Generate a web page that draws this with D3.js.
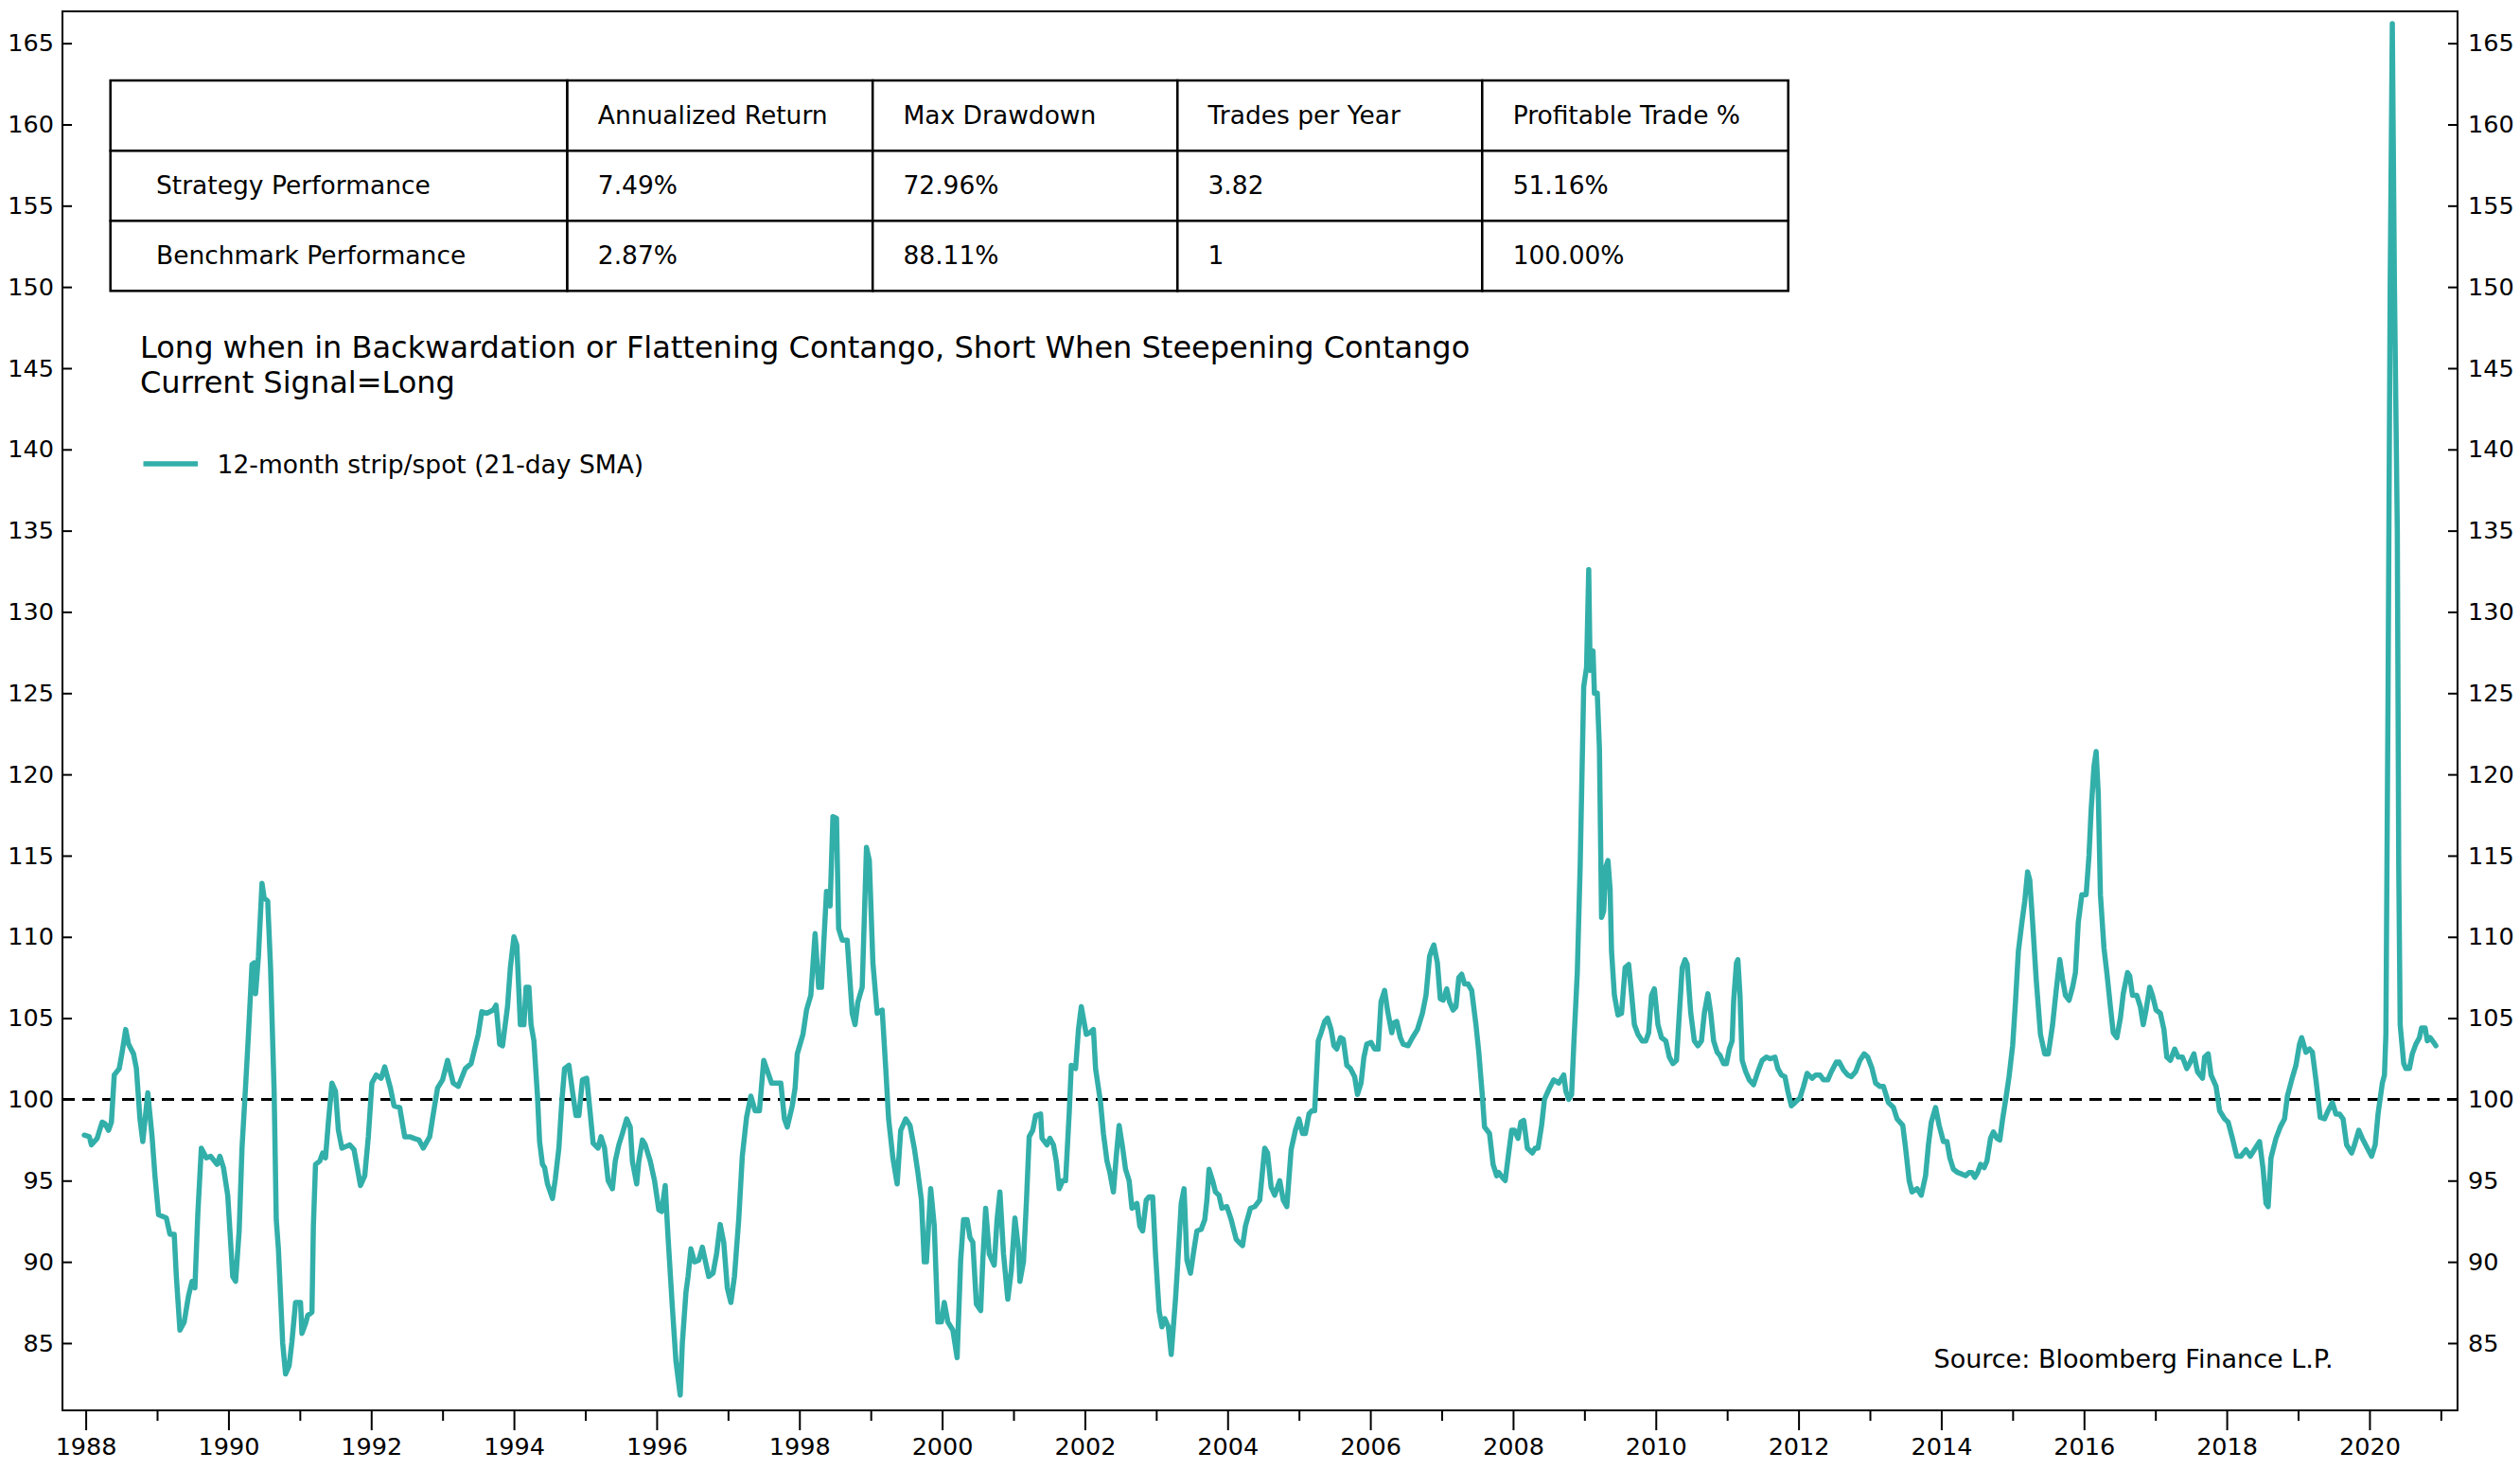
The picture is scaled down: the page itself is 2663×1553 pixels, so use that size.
<!DOCTYPE html>
<html>
<head>
<meta charset="utf-8">
<script src="https://cdn.jsdelivr.net/npm/d3@7"></script>
<style>
  body { margin: 0; background: #fff; }
  text { font-family: "DejaVu Sans", sans-serif; fill: #000; }
</style>
</head>
<body>
<script>
// 12-month strip / spot ratio (21-day SMA), decimal years
let dates = [
  1987.98, 1988.05, 1988.08, 1988.16, 1988.23, 1988.27, 1988.32, 1988.36, 1988.40, 1988.47,
  1988.51, 1988.56, 1988.60, 1988.67, 1988.71, 1988.76, 1988.80, 1988.87, 1988.93, 1988.97,
  1989.02, 1989.13, 1989.18, 1989.24, 1989.27, 1989.32, 1989.38, 1989.44, 1989.49, 1989.53,
  1989.57, 1989.62, 1989.69, 1989.75, 1989.84, 1989.88, 1989.93, 1989.99, 1990.06, 1990.10,
  1990.15, 1990.19, 1990.24, 1990.28, 1990.33, 1990.36, 1990.38, 1990.42, 1990.47, 1990.50,
  1990.55, 1990.59, 1990.64, 1990.67, 1990.70, 1990.76, 1990.80, 1990.85, 1990.89, 1990.94,
  1991.01, 1991.03, 1991.08, 1991.11, 1991.17, 1991.19, 1991.22, 1991.28, 1991.32, 1991.36,
  1991.40, 1991.45, 1991.50, 1991.54, 1991.59, 1991.70, 1991.76, 1991.85, 1991.91, 1991.96,
  1992.01, 1992.07, 1992.14, 1992.19, 1992.27, 1992.32, 1992.40, 1992.47, 1992.54, 1992.60,
  1992.67, 1992.73, 1992.82, 1992.87, 1992.93, 1993.00, 1993.07, 1993.15, 1993.22, 1993.32,
  1993.40, 1993.50, 1993.55, 1993.62, 1993.71, 1993.75, 1993.80, 1993.84, 1993.91, 1993.95,
  1994.00, 1994.04, 1994.09, 1994.14, 1994.17, 1994.21, 1994.24, 1994.28, 1994.33, 1994.36,
  1994.40, 1994.43, 1994.47, 1994.54, 1994.58, 1994.63, 1994.67, 1994.71, 1994.77, 1994.82,
  1994.87, 1994.91, 1994.96, 1995.02, 1995.07, 1995.11, 1995.18, 1995.22, 1995.27, 1995.32,
  1995.38, 1995.42, 1995.47, 1995.52, 1995.58, 1995.63, 1995.66, 1995.72, 1995.75, 1995.80,
  1995.84, 1995.91, 1995.97, 1996.03, 1996.07, 1996.12, 1996.16, 1996.22, 1996.27, 1996.33,
  1996.36, 1996.41, 1996.44, 1996.48, 1996.53, 1996.59, 1996.64, 1996.68, 1996.73, 1996.79,
  1996.84, 1996.89, 1996.94, 1996.99, 1997.04, 1997.09, 1997.15, 1997.20, 1997.26, 1997.32,
  1997.38, 1997.44, 1997.50, 1997.54, 1997.61, 1997.68, 1997.74, 1997.79, 1997.83, 1997.90,
  1997.94, 1997.97, 1998.05, 1998.10, 1998.16, 1998.22, 1998.27, 1998.31, 1998.34, 1998.38,
  1998.43, 1998.47, 1998.52, 1998.55, 1998.60, 1998.67, 1998.74, 1998.78, 1998.82, 1998.88,
  1998.94, 1998.98, 1999.03, 1999.09, 1999.16, 1999.21, 1999.25, 1999.31, 1999.37, 1999.42,
  1999.49, 1999.55, 1999.61, 1999.66, 1999.71, 1999.75, 1999.78, 1999.84, 1999.89, 1999.94,
  1999.99, 2000.03, 2000.08, 2000.15, 2000.21, 2000.26, 2000.30, 2000.35, 2000.39, 2000.43,
  2000.48, 2000.54, 2000.57, 2000.61, 2000.66, 2000.73, 2000.77, 2000.81, 2000.86, 2000.92,
  2000.97, 2001.02, 2001.07, 2001.09, 2001.14, 2001.18, 2001.22, 2001.27, 2001.31, 2001.38,
  2001.40, 2001.47, 2001.51, 2001.56, 2001.60, 2001.64, 2001.69, 2001.73, 2001.78, 2001.81,
  2001.87, 2001.91, 2001.95, 2002.02, 2002.07, 2002.12, 2002.15, 2002.22, 2002.26, 2002.31,
  2002.35, 2002.40, 2002.44, 2002.48, 2002.53, 2002.57, 2002.62, 2002.66, 2002.73, 2002.77,
  2002.81, 2002.86, 2002.90, 2002.95, 2002.99, 2003.04, 2003.08, 2003.12, 2003.17, 2003.21,
  2003.27, 2003.30, 2003.35, 2003.39, 2003.43, 2003.48, 2003.52, 2003.57, 2003.63, 2003.68,
  2003.71, 2003.74, 2003.79, 2003.83, 2003.88, 2003.92, 2003.99, 2004.05, 2004.12, 2004.16,
  2004.21, 2004.25, 2004.32, 2004.38, 2004.45, 2004.52, 2004.56, 2004.61, 2004.66, 2004.73,
  2004.78, 2004.83, 2004.89, 2004.95, 2005.00, 2005.05, 2005.09, 2005.14, 2005.18, 2005.22,
  2005.27, 2005.31, 2005.36, 2005.40, 2005.45, 2005.49, 2005.53, 2005.58, 2005.62, 2005.67,
  2005.72, 2005.78, 2005.82, 2005.87, 2005.91, 2005.95, 2006.01, 2006.06, 2006.11, 2006.15,
  2006.20, 2006.24, 2006.30, 2006.33, 2006.37, 2006.42, 2006.46, 2006.53, 2006.59, 2006.66,
  2006.73, 2006.78, 2006.83, 2006.86, 2006.89, 2006.94, 2006.98, 2007.02, 2007.07, 2007.11,
  2007.16, 2007.20, 2007.24, 2007.28, 2007.32, 2007.37, 2007.42, 2007.48, 2007.52, 2007.57,
  2007.60, 2007.67, 2007.72, 2007.77, 2007.80, 2007.85, 2007.89, 2007.93, 2007.98, 2008.02,
  2008.07, 2008.11, 2008.15, 2008.20, 2008.27, 2008.31, 2008.35, 2008.40, 2008.44, 2008.51,
  2008.57, 2008.64, 2008.71, 2008.74, 2008.78, 2008.82, 2008.85, 2008.90, 2008.94, 2008.99,
  2009.03, 2009.06, 2009.08, 2009.12, 2009.14, 2009.18, 2009.21, 2009.24, 2009.27, 2009.30,
  2009.33, 2009.36, 2009.38, 2009.42, 2009.47, 2009.52, 2009.57, 2009.62, 2009.66, 2009.70,
  2009.75, 2009.81, 2009.86, 2009.90, 2009.94, 2009.98, 2010.03, 2010.08, 2010.14, 2010.19,
  2010.24, 2010.29, 2010.33, 2010.37, 2010.41, 2010.44, 2010.49, 2010.54, 2010.59, 2010.64,
  2010.68, 2010.73, 2010.77, 2010.81, 2010.86, 2010.90, 2010.95, 2010.99, 2011.03, 2011.07,
  2011.09, 2011.13, 2011.15, 2011.18, 2011.21, 2011.26, 2011.31, 2011.37, 2011.43, 2011.49,
  2011.55, 2011.60, 2011.67, 2011.71, 2011.76, 2011.81, 2011.85, 2011.90, 2011.95, 2012.02,
  2012.07, 2012.12, 2012.19, 2012.24, 2012.30, 2012.35, 2012.41, 2012.46, 2012.53, 2012.57,
  2012.63, 2012.69, 2012.74, 2012.80, 2012.86, 2012.92, 2012.97, 2013.03, 2013.08, 2013.14,
  2013.19, 2013.26, 2013.33, 2013.38, 2013.46, 2013.50, 2013.55, 2013.59, 2013.66, 2013.72,
  2013.78, 2013.82, 2013.86, 2013.92, 2013.97, 2014.03, 2014.08, 2014.12, 2014.17, 2014.23,
  2014.29, 2014.34, 2014.39, 2014.43, 2014.47, 2014.51, 2014.55, 2014.60, 2014.64, 2014.69,
  2014.73, 2014.78, 2014.82, 2014.86, 2014.91, 2014.95, 2015.00, 2015.04, 2015.08, 2015.13,
  2015.17, 2015.21, 2015.24, 2015.28, 2015.33, 2015.39, 2015.45, 2015.50, 2015.56, 2015.61,
  2015.66, 2015.70, 2015.74, 2015.79, 2015.84, 2015.88, 2015.92, 2015.97, 2016.03, 2016.07,
  2016.10, 2016.14, 2016.17, 2016.20, 2016.23, 2016.28, 2016.32, 2016.37, 2016.41, 2016.46,
  2016.51, 2016.55, 2016.61, 2016.64, 2016.68, 2016.74, 2016.79, 2016.83, 2016.87, 2016.92,
  2016.96, 2017.01, 2017.07, 2017.12, 2017.16, 2017.21, 2017.27, 2017.32, 2017.38, 2017.44,
  2017.48, 2017.54, 2017.59, 2017.66, 2017.69, 2017.74, 2017.78, 2017.85, 2017.90, 2017.97,
  2018.02, 2018.08, 2018.14, 2018.20, 2018.27, 2018.33, 2018.40, 2018.46, 2018.51, 2018.55,
  2018.58, 2018.62, 2018.69, 2018.75, 2018.81, 2018.85, 2018.91, 2018.97, 2019.02, 2019.05,
  2019.11, 2019.16, 2019.20, 2019.25, 2019.31, 2019.37, 2019.42, 2019.48, 2019.53, 2019.58,
  2019.63, 2019.68, 2019.75, 2019.79, 2019.85, 2019.90, 2019.97, 2020.03, 2020.08, 2020.12,
  2020.18, 2020.21, 2020.23, 2020.26, 2020.29, 2020.32, 2020.35, 2020.39, 2020.41, 2020.43,
  2020.48, 2020.51, 2020.56, 2020.60, 2020.65, 2020.70, 2020.73, 2020.78, 2020.81, 2020.85,
  2020.90, 2020.93
];

let ratio = [
  97.8, 97.7, 97.2, 97.6, 98.6, 98.5, 98.1, 98.6, 101.5, 101.9,
  102.9, 104.3, 103.4, 102.8, 101.9, 98.8, 97.4, 100.4, 97.7, 95.3,
  92.9, 92.7, 91.7, 91.7, 89.1, 85.8, 86.3, 87.9, 88.8, 88.4,
  92.9, 97.0, 96.4, 96.5, 96.0, 96.5, 95.8, 94.1, 89.1, 88.8,
  91.9, 97.0, 100.8, 104.0, 108.3, 108.4, 106.5, 108.8, 113.3, 112.4,
  112.2, 108.1, 100.5, 92.6, 90.8, 85.0, 83.1, 83.6, 85.1, 87.5,
  87.5, 85.6, 86.2, 86.7, 86.9, 92.2, 96.0, 96.2, 96.7, 96.4,
  98.6, 101.0, 100.5, 98.1, 97.0, 97.2, 96.9, 94.7, 95.3, 97.7,
  101.0, 101.5, 101.3, 102.0, 100.7, 99.6, 99.5, 97.7, 97.7, 97.6,
  97.5, 97.0, 97.7, 99.1, 100.7, 101.2, 102.4, 101.0, 100.8, 101.9,
  102.2, 104.0, 105.4, 105.3, 105.5, 105.8, 103.4, 103.3, 105.7, 108.1,
  110.0, 109.5, 104.6, 104.6, 106.9, 106.9, 104.6, 103.6, 100.2, 97.4,
  96.0, 95.8, 94.8, 93.9, 95.1, 97.0, 99.8, 101.9, 102.1, 100.5,
  99.0, 99.0, 101.2, 101.3, 99.1, 97.3, 97.0, 97.7, 97.0, 95.0,
  94.5, 96.2, 97.2, 97.9, 98.8, 98.3, 96.2, 94.8, 96.2, 97.5,
  97.2, 96.2, 95.0, 93.2, 93.1, 94.7, 91.5, 87.2, 83.9, 81.8,
  85.0, 88.1, 89.1, 90.8, 90.0, 90.1, 90.9, 90.1, 89.1, 89.3,
  90.5, 92.3, 91.2, 88.4, 87.5, 89.1, 92.6, 96.5, 98.9, 100.2,
  99.3, 99.3, 102.4, 101.9, 101.0, 101.0, 101.0, 98.8, 98.3, 99.6,
  100.7, 102.8, 104.0, 105.5, 106.4, 110.2, 106.9, 106.9, 109.5, 112.8,
  111.9, 117.4, 117.3, 110.5, 109.8, 109.8, 105.3, 104.6, 106.0, 106.9,
  115.5, 114.7, 108.4, 105.3, 105.5, 101.9, 98.8, 96.4, 94.8, 98.1,
  98.8, 98.4, 97.0, 95.5, 93.8, 90.0, 90.0, 94.5, 92.2, 86.3,
  86.3, 87.5, 86.3, 85.8, 84.1, 90.1, 92.6, 92.6, 91.5, 91.2,
  87.4, 87.0, 90.1, 93.3, 90.5, 89.8, 92.6, 94.3, 90.5, 87.7,
  89.5, 92.7, 90.8, 88.8, 90.0, 93.6, 97.7, 98.1, 99.0, 99.1,
  97.6, 97.2, 97.6, 97.2, 96.2, 94.5, 95.0, 95.0, 99.1, 102.1,
  101.9, 104.3, 105.7, 104.0, 104.1, 104.3, 101.9, 99.8, 97.9, 96.2,
  95.5, 94.3, 96.5, 98.4, 97.0, 95.7, 95.0, 93.3, 93.6, 92.2,
  91.9, 93.8, 94.0, 94.0, 90.5, 87.0, 86.0, 86.5, 86.0, 84.3,
  87.7, 89.8, 93.6, 94.5, 90.1, 89.3, 90.5, 91.9, 92.0, 92.6,
  93.8, 95.7, 95.0, 94.3, 94.1, 93.3, 93.4, 92.6, 91.4, 91.2,
  91.0, 92.2, 93.3, 93.4, 93.8, 97.0, 96.7, 94.6, 94.1, 95.0,
  93.8, 93.4, 96.9, 98.1, 98.8, 97.9, 97.9, 99.1, 99.3, 99.3,
  103.6, 104.1, 104.8, 105.0, 104.3, 103.3, 103.1, 103.8, 103.7, 102.1,
  101.9, 101.4, 100.3, 101.0, 102.6, 103.4, 103.5, 103.1, 103.1, 106.0,
  106.7, 105.5, 104.1, 104.7, 104.8, 103.8, 103.4, 103.3, 103.8, 104.3,
  105.3, 106.4, 108.8, 109.2, 109.5, 108.4, 106.2, 106.1, 106.8, 106.0,
  105.5, 105.7, 107.5, 107.7, 107.1, 107.1, 106.7, 104.6, 102.9, 100.2,
  98.3, 97.9, 96.0, 95.3, 95.5, 95.2, 95.0, 96.4, 98.1, 98.1,
  97.6, 98.6, 98.7, 97.0, 96.7, 97.0, 97.0, 98.4, 100.0, 100.7,
  101.2, 101.0, 101.5, 100.5, 100.0, 100.3, 103.3, 107.8, 114.3, 125.4,
  126.6, 132.6, 126.4, 127.6, 125.0, 125.0, 121.6, 111.2, 111.6, 114.3,
  114.7, 112.9, 109.1, 106.4, 105.2, 105.3, 108.1, 108.3, 106.5, 104.6,
  104.0, 103.6, 103.6, 104.1, 106.4, 106.8, 104.6, 103.8, 103.6, 102.6,
  102.2, 102.4, 105.3, 108.1, 108.6, 108.3, 105.3, 103.6, 103.3, 103.6,
  105.3, 106.5, 105.3, 103.6, 102.9, 102.7, 102.2, 102.2, 103.1, 103.6,
  106.0, 108.4, 108.6, 106.4, 102.4, 101.7, 101.2, 100.9, 101.7, 102.4,
  102.6, 102.5, 102.6, 101.9, 101.5, 101.4, 100.5, 99.6, 99.8, 100.1,
  100.8, 101.6, 101.3, 101.5, 101.5, 101.2, 101.2, 101.7, 102.3, 102.3,
  101.8, 101.5, 101.4, 101.7, 102.4, 102.8, 102.6, 101.9, 101.0, 100.8,
  100.8, 99.8, 99.5, 98.8, 98.4, 97.0, 95.0, 94.3, 94.5, 94.1,
  95.3, 97.2, 98.6, 99.5, 98.4, 97.4, 97.4, 96.4, 95.7, 95.5,
  95.4, 95.3, 95.5, 95.5, 95.2, 95.5, 96.0, 95.8, 96.2, 97.6,
  98.0, 97.6, 97.5, 98.8, 100.2, 101.4, 103.3, 106.0, 109.1, 110.9,
  112.2, 114.0, 113.5, 110.9, 107.4, 104.0, 102.8, 102.8, 104.6, 106.7,
  108.6, 107.4, 106.4, 106.1, 106.9, 107.8, 110.9, 112.6, 112.6, 115.0,
  117.8, 120.5, 121.4, 118.8, 112.6, 109.3, 107.8, 105.7, 104.1, 103.8,
  105.0, 106.5, 107.8, 107.6, 106.4, 106.4, 105.7, 104.6, 105.5, 106.9,
  106.4, 105.5, 105.3, 104.3, 102.6, 102.4, 103.1, 102.6, 102.6, 101.9,
  102.2, 102.8, 101.7, 101.3, 102.6, 102.8, 101.5, 100.8, 99.3, 98.8,
  98.6, 97.6, 96.5, 96.5, 96.9, 96.5, 97.0, 97.4, 95.7, 93.6,
  93.4, 96.4, 97.6, 98.3, 98.8, 100.2, 101.2, 102.1, 103.4, 103.8,
  102.9, 103.1, 102.9, 101.2, 98.9, 98.8, 99.3, 99.8, 99.1, 99.1,
  98.8, 97.2, 96.7, 97.2, 98.1, 97.6, 97.0, 96.5, 97.2, 99.1,
  101.0, 101.5, 104.0, 124.7, 150.0, 166.2, 150.0, 135.0, 114.3, 104.6,
  102.2, 101.9, 101.9, 102.8, 103.4, 103.8, 104.4, 104.4, 103.6, 103.8,
  103.5, 103.3
];

let yTicks = [85, 90, 95, 100, 105, 110, 115, 120, 125, 130, 135, 140, 145, 150, 155, 160, 165];
let xMajor = [1988, 1990, 1992, 1994, 1996, 1998, 2000, 2002, 2004, 2006, 2008, 2010, 2012, 2014, 2016, 2018, 2020];
let xMinor = [1989, 1991, 1993, 1995, 1997, 1999, 2001, 2003, 2005, 2007, 2009, 2011, 2013, 2015, 2017, 2019, 2021];
let baseline = 100;

let tableHead = ["", "Annualized Return", "Max Drawdown", "Trades per Year", "Profitable Trade %"];
let strategyRow = ["Strategy Performance", "7.49%", "72.96%", "3.82", "51.16%"];
let benchmarkRow = ["Benchmark Performance", "2.87%", "88.11%", "1", "100.00%"];

let noteLines = [
  "Long when in Backwardation or Flattening Contango, Short When Steepening Contango",
  "Current Signal=Long"
];
let legendLabel = "12-month strip/spot (21-day SMA)";
let sourceLabel = "Source: Bloomberg Finance L.P.";

let lineColor = "#33afaa";

let W = 2663, H = 1553;
let plot = {left: 66, right: 2597, top: 12, bottom: 1490};

const svg = d3.select("body")
  .append("svg")
  .attr("width", W)
  .attr("height", H);

let x = d3.scaleLinear()
  .domain([1987.674, 2021.234])
  .range([plot.left, plot.right]);

let y = d3.scaleLinear()
  .domain([80.86, 166.96])
  .range([plot.bottom, plot.top]);

svg.append("defs").append("clipPath")
  .attr("id", "clip")
  .append("rect")
  .attr("x", plot.left)
  .attr("y", plot.top)
  .attr("width", plot.right - plot.left)
  .attr("height", plot.bottom - plot.top);

// x axis with long major and short minor ticks
let xAxis = d3.axisBottom(x)
  .tickValues(xMajor)
  .tickFormat(d3.format("d"))
  .tickSize(21)
  .tickPadding(8);

let gx = svg.append("g")
  .attr("transform", "translate(0," + plot.bottom + ")")
  .call(xAxis);
gx.select(".domain").remove();
gx.selectAll("line").attr("stroke", "#000").attr("stroke-width", 2);
gx.selectAll("text").style("font-size", "25.5px");

let gxMinor = svg.append("g")
  .attr("transform", "translate(0," + plot.bottom + ")")
  .call(d3.axisBottom(x).tickValues(xMinor).tickFormat("").tickSize(11));
gxMinor.select(".domain").remove();
gxMinor.selectAll("line").attr("stroke", "#000").attr("stroke-width", 2);

// y axes, ticks pointing inward
let yLeft = svg.append("g")
  .attr("transform", "translate(" + plot.left + ",0)")
  .call(d3.axisRight(y).tickValues(yTicks).tickSize(10).tickFormat(""));
yLeft.select(".domain").remove();
yLeft.selectAll("line").attr("stroke", "#000").attr("stroke-width", 2);

let yLeftLabels = svg.append("g")
  .attr("transform", "translate(" + plot.left + ",0)")
  .call(d3.axisLeft(y).tickValues(yTicks).tickSize(0).tickPadding(9));
yLeftLabels.select(".domain").remove();
yLeftLabels.selectAll("text").style("font-size", "25.5px");

let yRight = svg.append("g")
  .attr("transform", "translate(" + plot.right + ",0)")
  .call(d3.axisLeft(y).tickValues(yTicks).tickSize(10).tickFormat(""));
yRight.select(".domain").remove();
yRight.selectAll("line").attr("stroke", "#000").attr("stroke-width", 2);

let yRightLabels = svg.append("g")
  .attr("transform", "translate(" + plot.right + ",0)")
  .call(d3.axisRight(y).tickValues(yTicks).tickSize(0).tickPadding(11));
yRightLabels.select(".domain").remove();
yRightLabels.selectAll("text").style("font-size", "25.5px");

// 100 reference line
svg.append("line")
  .attr("x1", plot.left)
  .attr("x2", plot.right)
  .attr("y1", y(baseline))
  .attr("y2", y(baseline))
  .attr("stroke", "#000")
  .attr("stroke-width", 3)
  .attr("stroke-dasharray", "13,8");

// the series
let series = dates.map((d, i) => ({year: d, value: ratio[i]}));
let line = d3.line()
  .x((d) => x(d.year))
  .y((d) => y(d.value));

svg.append("path")
  .datum(series)
  .attr("clip-path", "url(#clip)")
  .attr("d", line)
  .attr("fill", "none")
  .attr("stroke", lineColor)
  .attr("stroke-width", 5.5)
  .attr("stroke-linejoin", "round")
  .attr("stroke-linecap", "round");

// frame
svg.append("rect")
  .attr("x", plot.left)
  .attr("y", plot.top)
  .attr("width", plot.right - plot.left)
  .attr("height", plot.bottom - plot.top)
  .attr("fill", "none")
  .attr("stroke", "#000")
  .attr("stroke-width", 2);

// performance table
let colEdges = [116.7, 599.5, 922.2, 1244.3, 1566.3, 1889.7];
let rowEdges = [85, 159.3, 233.3, 307.3];
let tableRows = [tableHead, strategyRow, benchmarkRow];

let table = svg.append("g");
tableRows.forEach((row, r) => {
  row.forEach((cell, c) => {
    let w = colEdges[c + 1] - colEdges[c];
    table.append("rect")
      .attr("x", colEdges[c])
      .attr("y", rowEdges[r])
      .attr("width", w)
      .attr("height", rowEdges[r + 1] - rowEdges[r])
      .attr("fill", "#fff")
      .attr("stroke", "#000")
      .attr("stroke-width", 2.5);
    table.append("text")
      .text(cell)
      .attr("x", colEdges[c] + w * 0.1)
      .attr("y", (rowEdges[r] + rowEdges[r + 1]) / 2 - 1)
      .attr("dominant-baseline", "central")
      .style("font-size", "26.5px");
  });
});

// annotation
svg.selectAll(".note")
  .data(noteLines)
  .enter()
  .append("text")
  .attr("class", "note")
  .text((d) => d)
  .attr("x", 148)
  .attr("y", (d, i) => 378 + i * 36.5)
  .style("font-size", "32px");

// legend
svg.append("line")
  .attr("x1", 151.5)
  .attr("x2", 209)
  .attr("y1", 490)
  .attr("y2", 490)
  .attr("stroke", lineColor)
  .attr("stroke-width", 5.5);

svg.append("text")
  .text(legendLabel)
  .attr("x", 229.6)
  .attr("y", 490)
  .attr("dominant-baseline", "central")
  .style("font-size", "26.5px");

svg.append("text")
  .text(sourceLabel)
  .attr("x", 2043.5)
  .attr("y", 1435)
  .attr("dominant-baseline", "central")
  .style("font-size", "27px");
</script>
</body>
</html>
